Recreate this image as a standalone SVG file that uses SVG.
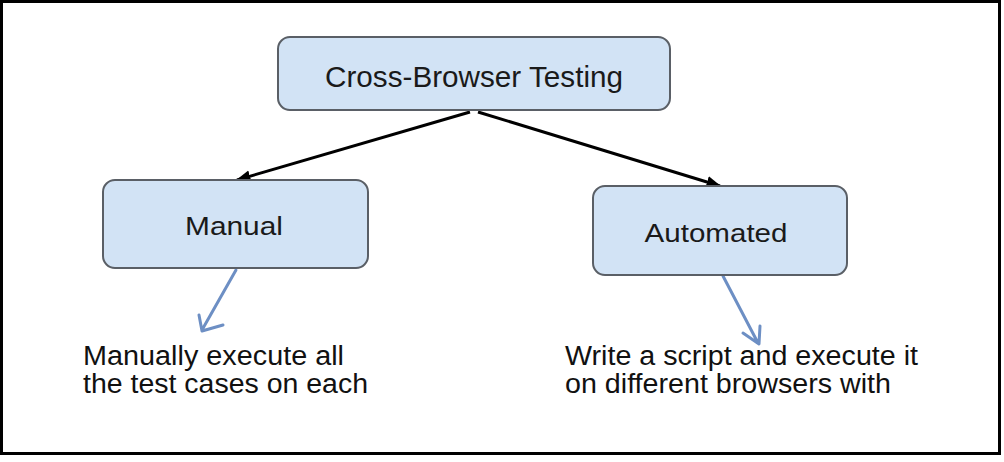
<svg xmlns="http://www.w3.org/2000/svg" width="1004" height="462" viewBox="0 0 1004 462">
<defs>
<style>
.box{fill:#d2e3f5;stroke:#5a5f66;stroke-width:2}
.lbl{font-family:"Liberation Sans",Arial,sans-serif;fill:#1a1a1a;text-anchor:middle}
.txt{font-family:"Liberation Sans",Arial,sans-serif;fill:#111;font-size:27px}
.blk{stroke:#000;stroke-width:3;fill:none}
.blu{stroke:#6d8fc4;stroke-width:3;fill:none;stroke-linecap:round;stroke-linejoin:round}
</style>
<marker id="ah" viewBox="0 0 10 10" refX="9" refY="5" markerWidth="5" markerHeight="5" orient="auto" markerUnits="strokeWidth">
<path d="M0,1 L10,5 L0,9 z" fill="#000"/>
</marker>
</defs>
<rect x="1.5" y="1.5" width="998" height="452" fill="#fff" stroke="#000" stroke-width="3"/>
<g id="connectors">
<line class="blk" x1="470" y1="112" x2="237" y2="180" marker-end="url(#ah)"/>
<line class="blk" x1="478" y1="112" x2="720" y2="186" marker-end="url(#ah)"/>
<path class="blu" d="M236,270 L202,330 M199,315 L202,331 L223,325"/>
<path class="blu" d="M723,276 L758,343 M760,326 L759,344 L743,333"/>
</g>
<g id="node-cbt">
<rect class="box" x="278" y="37" width="392" height="73" rx="12"/>
<text class="lbl" x="474" y="87" font-size="30" textLength="298" lengthAdjust="spacingAndGlyphs">Cross-Browser Testing</text>
</g>
<g id="node-manual">
<rect class="box" x="103" y="180" width="265" height="88" rx="12"/>
<text class="lbl" x="234" y="235" font-size="26" textLength="98" lengthAdjust="spacingAndGlyphs">Manual</text>
</g>
<g id="node-automated">
<rect class="box" x="593" y="186" width="254" height="89" rx="12"/>
<text class="lbl" x="716" y="242" font-size="26" textLength="143" lengthAdjust="spacingAndGlyphs">Automated</text>
</g>
<g id="text-manual">
<text class="txt" x="83" y="365" textLength="261" lengthAdjust="spacingAndGlyphs">Manually execute all</text>
<text class="txt" x="83" y="393" textLength="285" lengthAdjust="spacingAndGlyphs">the test cases on each</text>
</g>
<g id="text-automated">
<text class="txt" x="565" y="365" textLength="353" lengthAdjust="spacingAndGlyphs">Write a script and execute it</text>
<text class="txt" x="565" y="393" textLength="326" lengthAdjust="spacingAndGlyphs">on different browsers with</text>
</g>
</svg>
